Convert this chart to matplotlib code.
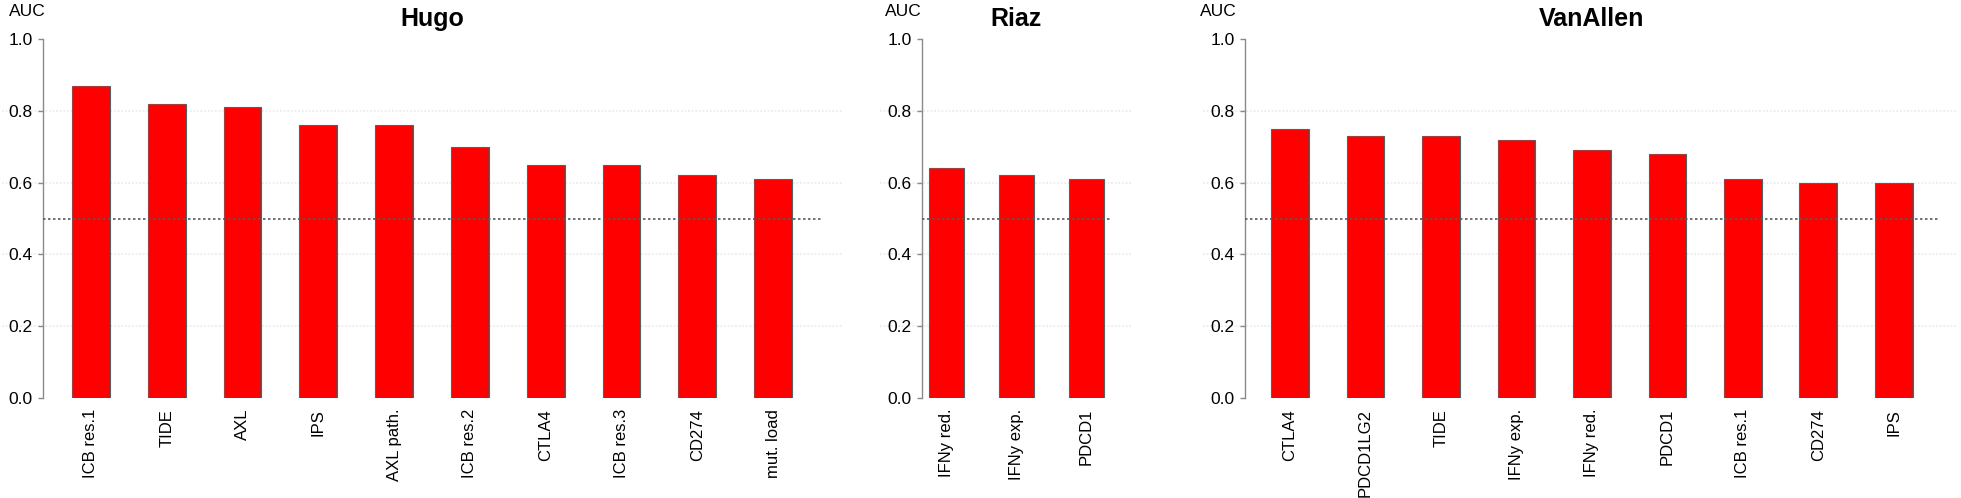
import matplotlib
matplotlib.use("Agg")
import matplotlib.pyplot as plt

plt.rcParams["font.family"] = ["Liberation Sans", "DejaVu Sans"]

# ----------------------------
# DATA
# ----------------------------
hugo_labels = ["ICB res.1", "TIDE", "AXL", "IPS", "AXL path.", "ICB res.2",
               "CTLA4", "ICB res.3", "CD274", "mut. load"]
hugo_auc = [0.87, 0.82, 0.81, 0.76, 0.76, 0.70, 0.65, 0.65, 0.62, 0.61]

riaz_labels = ["IFNy red.", "IFNy exp.", "PDCD1"]
riaz_auc = [0.64, 0.62, 0.61]

vanallen_labels = ["CTLA4", "PDCD1LG2", "TIDE", "IFNy exp.", "IFNy red.",
                   "PDCD1", "ICB res.1", "CD274", "IPS"]
vanallen_auc = [0.75, 0.73, 0.73, 0.72, 0.69, 0.68, 0.61, 0.60, 0.60]

y_ticks = [0.0, 0.2, 0.4, 0.6, 0.8, 1.0]
chance = 0.5

# ----------------------------
# LAYOUT (pixel boxes of the plotting regions)
# ----------------------------
W, H = 1961, 498
Y_BOTTOM, Y_TOP = 398, 39

panels = [
    # title, labels, values, px left, px right, xlim, spine x, AUC px center
    ("Hugo", hugo_labels, hugo_auc, 2, 842, (-1.174, 9.91), -0.633, 27),
    ("Riaz", riaz_labels, riaz_auc, 880, 1132, (-0.95, 2.65), -0.35, 903),
    ("VanAllen", vanallen_labels, vanallen_auc, 1203, 1958, (-1.152, 8.85), -0.596, 1218),
]

fig = plt.figure(figsize=(W / 100, H / 100), dpi=100)

for title, labels, values, px_l, px_r, xlim, spine_x, auc_px in panels:
    ax = fig.add_axes([px_l / W, (H - Y_BOTTOM) / H,
                       (px_r - px_l) / W, (Y_BOTTOM - Y_TOP) / H])
    n = len(values)
    xs = list(range(n))

    # light grid lines
    for t in y_ticks[1:-1]:
        ax.axhline(t, color="#ececf1", lw=1.3, ls=(0, (1, 1)), zorder=0)

    ax.bar(xs, values, width=0.5, color="#ff0000", edgecolor="#4a6565",
           linewidth=0.8, zorder=2)

    # chance line
    ax.plot([spine_x, n - 1 - spine_x], [chance, chance], color="#5a5a5a",
            lw=1.2, ls=(0, (1.5, 1.5)), zorder=3)

    ax.set_xlim(*xlim)
    ax.set_ylim(0, 1)

    for s in ["top", "right", "bottom"]:
        ax.spines[s].set_visible(False)
    ax.spines["left"].set_position(("data", spine_x))
    ax.spines["left"].set_bounds(0, 1)
    ax.spines["left"].set_color("#8a8a8a")
    ax.spines["left"].set_linewidth(1.0)

    ax.set_yticks(y_ticks)
    ax.set_yticklabels([f"{t:.1f}" for t in y_ticks])
    ax.tick_params(axis="y", length=3.6, width=1.0, color="#8a8a8a",
                   pad=3.6, labelsize=12.5)
    ax.set_xticks(xs)
    ax.set_xticklabels(labels, rotation=90)
    ax.tick_params(axis="x", length=0, pad=7.8, labelsize=12)

    ax.text((n - 1) / 2, 1.056, title, ha="center", va="center",
            fontsize=18, fontweight="bold", clip_on=False)

    fig.text(auc_px / W, (H - 11) / H, "AUC", ha="center", va="center",
             fontsize=12.5)

fig.savefig("out.png", dpi=100)
plt.close(fig)
